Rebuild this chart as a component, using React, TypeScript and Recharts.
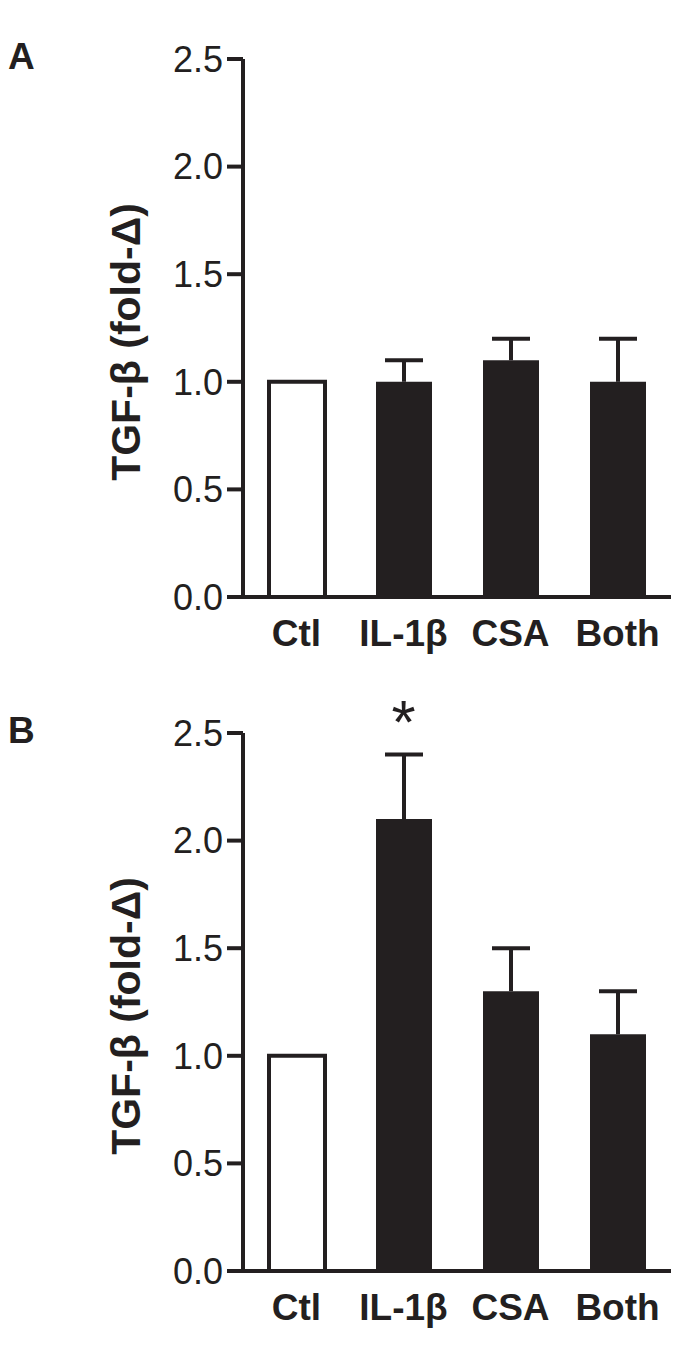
import { BarChart, Bar, XAxis, YAxis, Cell, ReferenceDot } from 'recharts'

// categories + values (fold change vs control)
const groups = ['Ctl', 'IL-1β', 'CSA', 'Both']
const meanA = [1.0, 1.0, 1.1, 1.0]
const errA = [0, 0.1, 0.1, 0.2]
const meanB = [1.0, 2.1, 1.3, 1.1]
const errB = [0, 0.3, 0.2, 0.2]
const sigA = ['', '', '', '']
const sigB = ['', '*', '', '']
const yTicks = [0, 0.5, 1, 1.5, 2, 2.5]
const edgeTicks = [0, 1, 2, 3, 4]

const INK = '#231f20'
const FONT = '"Liberation Sans", Arial, Helvetica, sans-serif'
const BAR_FILL = ['#ffffff', INK, INK, INK]
const W = 685
const H = 685

function buildRows(means: number[], errs: number[], sig: string[]) {
  return groups.map((name, i) => ({
    name,
    mean: means[i],
    err: errs[i],
    top: means[i] + errs[i],
    sig: sig[i],
  }))
}

// upper-only SEM whisker, drawn as the stacked segment above each bar
// eslint-disable-next-line @typescript-eslint/no-explicit-any
function Whisker(props: any) {
  const { x, y, width, height } = props
  if (!height || height <= 0) return null
  const cx = x + width / 2
  return (
    <g stroke={INK} strokeWidth={4}>
      <line x1={cx} y1={y + height} x2={cx} y2={y} />
      <line x1={cx - 19} y1={y} x2={cx + 19} y2={y} />
    </g>
  )
}

// eslint-disable-next-line @typescript-eslint/no-explicit-any
function YTitle({ viewBox }: any) {
  const { x, y, height } = viewBox
  return (
    <text
      transform={`translate(${x + 126}, ${y + height / 2 + 14}) rotate(-90)`}
      textAnchor="middle"
      dominantBaseline="central"
      fontFamily={FONT}
      fontWeight="bold"
      fontSize={41}
      fill={INK}
    >
      TGF-β (fold-Δ)
    </text>
  )
}

function Panel({ letter, top, means, errs, sig }: { letter: string; top: number; means: number[]; errs: number[]; sig: string[] }) {
  const data = buildRows(means, errs, sig)
  return (
    <div style={{ position: 'absolute', left: 0, top, width: W, height: H }}>
      <div
        style={{
          position: 'absolute', left: 8, top: 38, fontFamily: FONT, fontWeight: 'bold',
          fontSize: 37, lineHeight: '37px', color: INK,
        }}
      >
        {letter}
      </div>
      <BarChart width={W} height={H} data={data} margin={{ top: 59, right: 14, left: 0, bottom: 0 }}>
        <XAxis
          xAxisId="b_cat"
          dataKey="name"
          height={70}
          axisLine={false}
          tickLine={false}
          tickSize={0}
          tickMargin={5}
          interval={0}
          tick={{ fontFamily: FONT, fontWeight: 'bold', fontSize: 37, fill: INK }}
        />
        {/* baseline + boundary ticks between groups */}
        <XAxis
          xAxisId="a_edge"
          type="number"
          domain={[0, 4]}
          ticks={edgeTicks}
          allowDataOverflow
          height={18}
          tick={false}
          tickSize={16}
          axisLine={{ stroke: INK, strokeWidth: 4 }}
          tickLine={{ stroke: INK, strokeWidth: 4 }}
        />
        <YAxis
          domain={[0, 2.5]}
          ticks={yTicks}
          width={243}
          tickSize={16}
          tickMargin={4}
          tickFormatter={(v: number) => v.toFixed(1)}
          tick={{ fontFamily: FONT, fontSize: 36, fill: INK }}
          axisLine={{ stroke: INK, strokeWidth: 4 }}
          tickLine={{ stroke: INK, strokeWidth: 4 }}
          label={<YTitle />}
        />
        <Bar xAxisId="b_cat" dataKey="mean" stackId="s" barSize={56} isAnimationActive={false}>
          {data.map((d, i) => (
            <Cell key={d.name} fill={BAR_FILL[i]} stroke={INK} strokeWidth={i === 0 ? 4 : 0} />
          ))}
        </Bar>
        <Bar xAxisId="b_cat" dataKey="err" stackId="s" barSize={56} shape={<Whisker />} isAnimationActive={false} />
        {data.filter(d => d.sig).map(d => (
          <ReferenceDot
            key={d.name}
            xAxisId="b_cat"
            x={d.name}
            y={d.top}
            r={0}
            fill="none"
            stroke="none"
            label={{ value: d.sig, position: 'top', offset: 12, fontFamily: FONT, fontSize: 62, fill: INK }}
          />
        ))}
      </BarChart>
    </div>
  )
}

export default function App() {
  return (
    <div style={{ position: 'absolute', left: 0, top: 0, width: 685, height: 1370, background: '#fff' }}>
      <Panel letter="A" top={0} means={meanA} errs={errA} sig={sigA} />
      <Panel letter="B" top={674} means={meanB} errs={errB} sig={sigB} />
    </div>
  )
}
